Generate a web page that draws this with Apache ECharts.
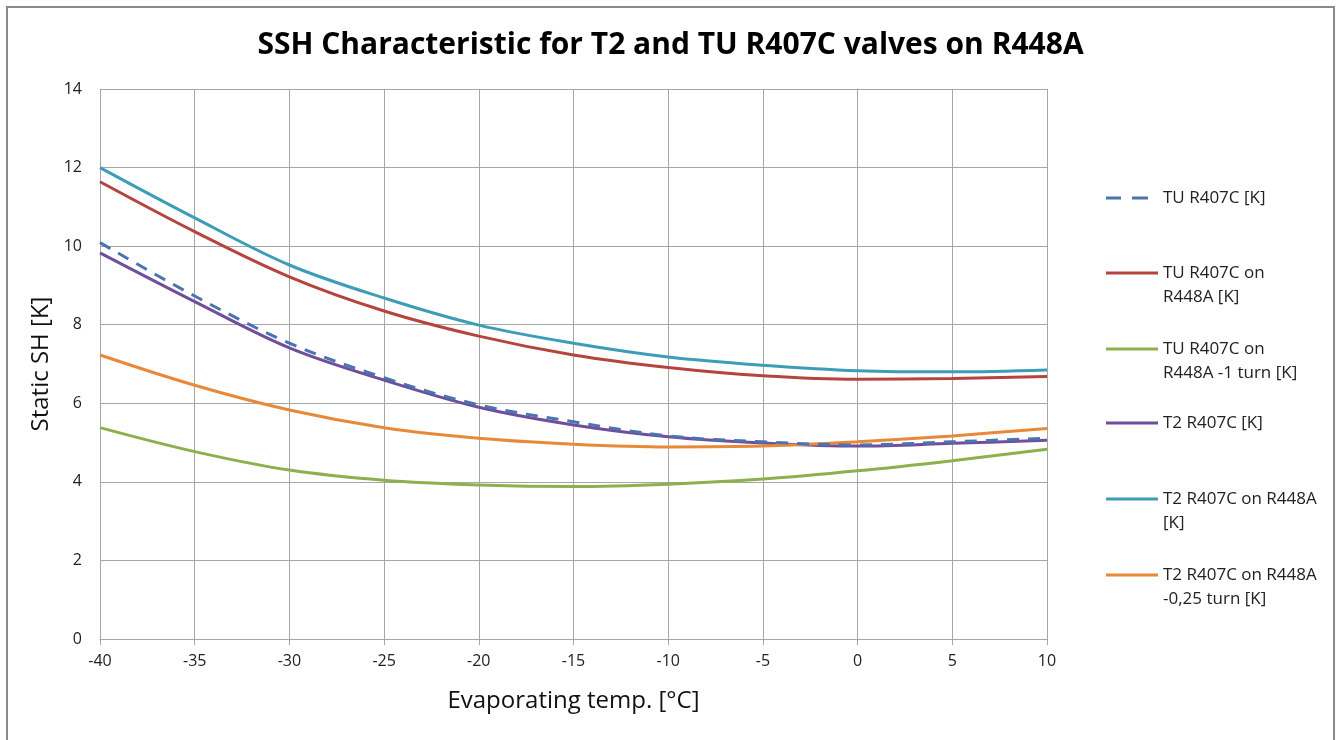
<!DOCTYPE html>
<html>
<head>
<meta charset="utf-8">
<script src="https://cdn.jsdelivr.net/npm/echarts@6/dist/echarts.min.js"></script>
<style>html,body{margin:0;padding:0;background:#fff;}#chart{width:1341px;height:740px;}</style>
</head>
<body>
<div id="chart"></div>
<script>
const temps = [-40, -35, -30, -25, -20, -15, -10, -5, 0, 5, 10];
const tuR407C = [10.09, 8.73, 7.53, 6.65, 5.96, 5.53, 5.17, 5.02, 4.94, 5.02, 5.11];
const tuOnR448A = [11.64, 10.37, 9.22, 8.35, 7.71, 7.23, 6.91, 6.70, 6.61, 6.63, 6.68];
const tuOnR448A1Turn = [5.38, 4.77, 4.30, 4.04, 3.92, 3.88, 3.94, 4.07, 4.28, 4.54, 4.83];
const t2R407C = [9.83, 8.59, 7.41, 6.59, 5.90, 5.45, 5.15, 4.99, 4.91, 4.98, 5.06];
const t2OnR448A = [12.0, 10.72, 9.52, 8.68, 7.99, 7.53, 7.18, 6.97, 6.83, 6.80, 6.85];
const t2OnR448A025Turn = [7.23, 6.46, 5.83, 5.38, 5.11, 4.96, 4.89, 4.91, 5.02, 5.17, 5.36];

const seriesNames = ['TU R407C [K]', 'TU R407C on R448A [K]', 'TU R407C on R448A -1 turn [K]', 'T2 R407C [K]', 'T2 R407C on R448A [K]', 'T2 R407C on R448A -0,25 turn [K]'];
const legendLines = [['TU R407C [K]'], ['TU R407C on', 'R448A [K]'], ['TU R407C on', 'R448A -1 turn [K]'], ['T2 R407C [K]'], ['T2 R407C on R448A', '[K]'], ['T2 R407C on R448A', '-0,25 turn [K]']];
const seriesData = [tuR407C, tuOnR448A, tuOnR448A1Turn, t2R407C, t2OnR448A, t2OnR448A025Turn];
const colors = ['#4a73b0', '#b5443f', '#8bb04c', '#6f4f9c', '#3d9db6', '#e8893a'];

const iconCenters = [198, 273, 349, 423, 499, 575];

const chart = echarts.init(document.getElementById('chart'));
const FONT = '"Open Sans", "Noto Sans", sans-serif';
const LH = 24;

const series = seriesNames.map((n, i) => ({
  name: n,
  type: 'line',
  smooth: 0.35,
  symbol: 'none',
  data: temps.map((t, k) => [t, seriesData[i][k]]),
  lineStyle: { color: colors[i], width: 3, type: i === 0 ? [12, 9] : 'solid', cap: 'butt' },
  itemStyle: { color: colors[i] },
  z: i === 0 ? 10 : 2
}));

const legends = seriesNames.map((n, i) => {
  const lines = legendLines[i];
  const twoLine = lines.length > 1;
  // blank first line so the icon (vertically centred) aligns with the first real line
  const label = twoLine ? '\u00a0\n' + lines.join('\n') : lines[0];
  return {
    data: [n],
    left: 1106,
    top: twoLine ? iconCenters[i] - 1.5 * LH : iconCenters[i] - LH / 2,
    orient: 'vertical',
    itemWidth: i === 0 ? 42 : 52,
    itemHeight: 3,
    itemGap: 0,
    padding: 0,
    selectedMode: false,
    icon: i === 0 ? 'path://M0,0h15v3h-15z M26,0h16v3h-16z' : 'rect',
    itemStyle: { color: colors[i] },
    formatter: () => label,
    textStyle: { fontFamily: FONT, fontSize: 17, color: '#222', lineHeight: LH, padding: [0, 0, 0, i === 0 ? 10 : 0] }
  };
});

chart.setOption({
  animation: false,
  backgroundColor: '#fff',
  title: {
    text: 'SSH Characteristic for T2 and TU R407C valves on R448A',
    left: 'center',
    top: 25,
    textStyle: { fontFamily: FONT, fontSize: 30, fontWeight: 'bold', color: '#000' }
  },
  graphic: [{
    type: 'rect', shape: { x: 7, y: 7, width: 1327, height: 760 },
    style: { fill: 'none', stroke: '#8a8a8a', lineWidth: 2 }, silent: true
  }],
  legend: legends,
  grid: { left: 100, right: 294, top: 89, bottom: 101 },
  xAxis: {
    type: 'value', min: -40, max: 10, interval: 5,
    name: 'Evaporating temp. [°C]', nameLocation: 'middle', nameGap: 50,
    nameTextStyle: { fontFamily: FONT, fontSize: 24, color: '#111' },
    axisLine: { show: true, lineStyle: { color: '#a6a6a6', width: 1 } },
    axisTick: { show: true, length: 6, lineStyle: { color: '#a6a6a6' } },
    axisLabel: { fontFamily: FONT, fontSize: 16, color: '#222', margin: 14 },
    splitLine: { show: true, lineStyle: { color: '#a6a6a6', width: 1 } }
  },
  yAxis: {
    type: 'value', min: 0, max: 14, interval: 2,
    name: 'Static SH [K]', nameLocation: 'middle', nameGap: 46, nameRotate: 90,
    nameTextStyle: { fontFamily: FONT, fontSize: 24, color: '#111' },
    axisLine: { show: true, lineStyle: { color: '#a6a6a6', width: 1 } },
    axisTick: { show: true, length: 6, lineStyle: { color: '#a6a6a6' } },
    axisLabel: { fontFamily: FONT, fontSize: 16, color: '#222', margin: 18 },
    splitLine: { show: true, lineStyle: { color: '#a6a6a6', width: 1 } }
  },
  series: series
});
</script>
</body>
</html>
